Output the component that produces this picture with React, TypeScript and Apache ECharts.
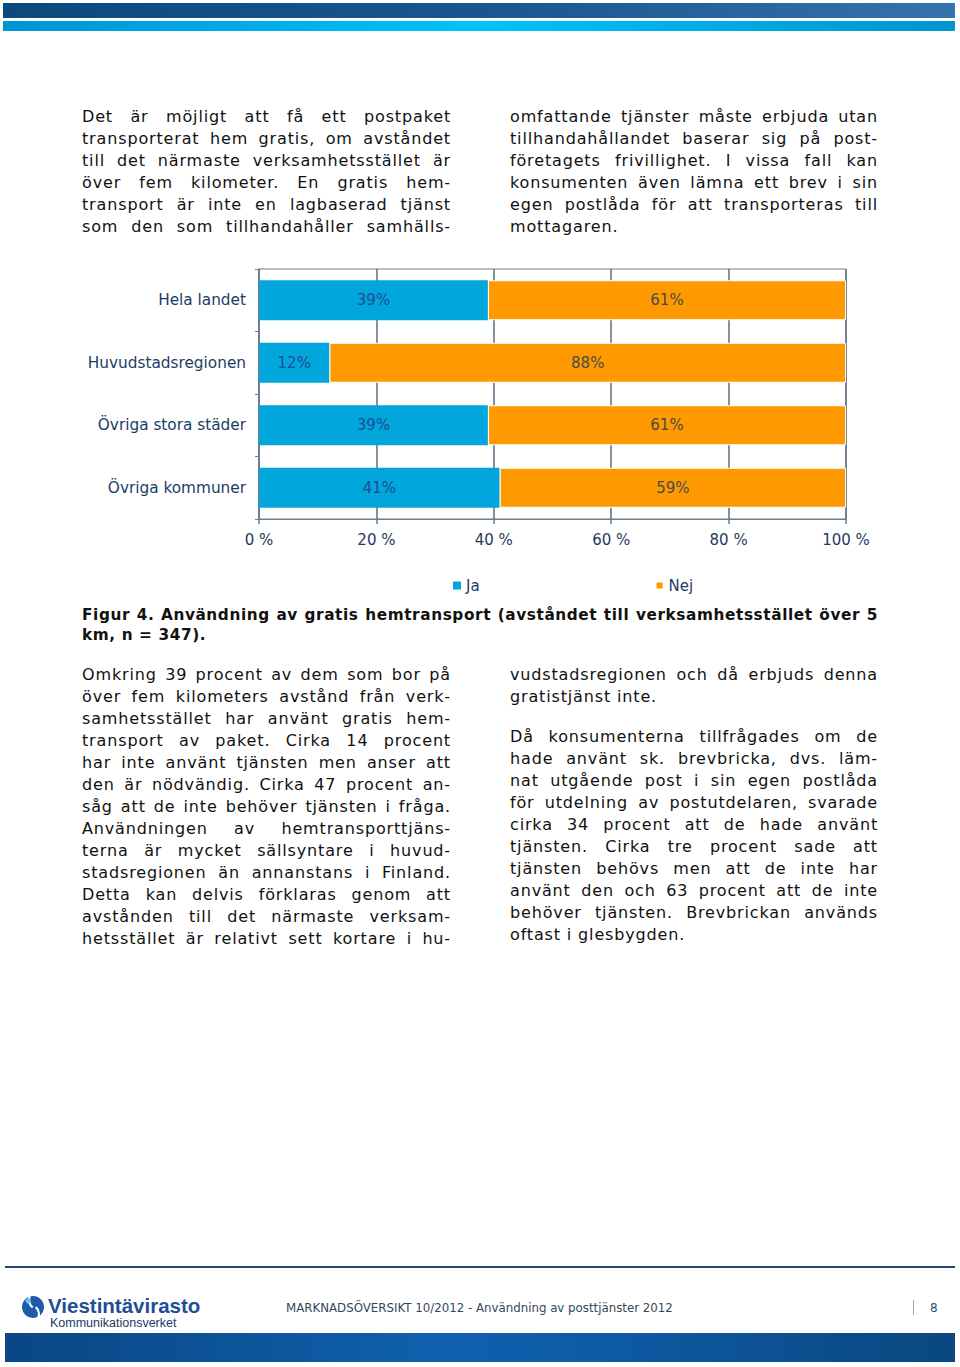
import React, { useEffect, useRef } from "react";
import * as echarts from "echarts";

const categories = ["Hela landet", "Huvudstadsregionen", "Övriga stora städer", "Övriga kommuner"];
const jaValues = [39, 12, 39, 41];
const nejValues = [61, 88, 61, 59];
const seriesNames = ["Ja", "Nej"];
const xMin = 0;
const xMax = 100;
const xStep = 20;

const topLeftLines = [
  "Det är möjligt att få ett postpaket",
  "transporterat hem gratis, om avståndet",
  "till det närmaste verksamhetsstället är",
  "över fem kilometer. En gratis hem-",
  "transport är inte en lagbaserad tjänst",
  "som den som tillhandahåller samhälls-",
];
const topRightLines = [
  "omfattande tjänster måste erbjuda utan",
  "tillhandahållandet baserar sig på post-",
  "företagets frivillighet. I vissa fall kan",
  "konsumenten även lämna ett brev i sin",
  "egen postlåda för att transporteras till",
  "mottagaren.",
];
const bottomLeftLines = [
  "Omkring 39 procent av dem som bor på",
  "över fem kilometers avstånd från verk-",
  "samhetsstället har använt gratis hem-",
  "transport av paket. Cirka 14 procent",
  "har inte använt tjänsten men anser att",
  "den är nödvändig. Cirka 47 procent an-",
  "såg att de inte behöver tjänsten i fråga.",
  "Användningen av hemtransporttjäns-",
  "terna är mycket sällsyntare i huvud-",
  "stadsregionen än annanstans i Finland.",
  "Detta kan delvis förklaras genom att",
  "avstånden till det närmaste verksam-",
  "hetsstället är relativt sett kortare i hu-",
];
const bottomRightLines1 = [
  "vudstadsregionen och då erbjuds denna",
  "gratistjänst inte.",
];
const bottomRightLines2 = [
  "Då konsumenterna tillfrågades om de",
  "hade använt sk. brevbricka, dvs. läm-",
  "nat utgående post i sin egen postlåda",
  "för utdelning av postutdelaren, svarade",
  "cirka 34 procent att de hade använt",
  "tjänsten. Cirka tre procent sade att",
  "tjänsten behövs men att de inte har",
  "använt den och 63 procent att de inte",
  "behöver tjänsten. Brevbrickan används",
  "oftast i glesbygden.",
];
const captionLines = [
  "Figur 4. Användning av gratis hemtransport (avståndet till verksamhetsstället över 5",
  "km, n = 347).",
];
const footerText = "MARKNADSÖVERSIKT 10/2012 - Användning av posttjänster 2012";
const pageNumber = "8";
const logoName = "Viestintävirasto";
const logoSub = "Kommunikationsverket";

const FONT = "'DejaVu Sans', Verdana, sans-serif";

type ColProps = {
  left: number;
  top: number;
  width: number;
  lines: string[];
  lastIsLeft?: boolean;
  lineHeight?: number;
  bold?: boolean;
  fontSize?: number;
  letterSpacing?: number;
};

function Column({ left, top, width, lines, lastIsLeft, lineHeight = 22, bold, fontSize = 16, letterSpacing = 0.85 }: ColProps) {
  return (
    <div
      style={{
        position: "absolute",
        left,
        top,
        width,
        fontFamily: FONT,
        fontSize,
        lineHeight: lineHeight + "px",
        letterSpacing,
        color: "#111",
        fontWeight: bold ? "bold" : "normal",
        zIndex: 2,
      }}
    >
      {lines.map((l, i) => {
        const isLast = i === lines.length - 1 && lastIsLeft;
        return (
          <div
            key={i}
            style={{
              height: lineHeight,
              textAlign: isLast ? "left" : "justify",
              textAlignLast: isLast ? "left" : "justify",
              overflow: "visible",
            }}
          >
            {l}
          </div>
        );
      })}
    </div>
  );
}

export default function App() {
  const ref = useRef<HTMLDivElement>(null);

  useEffect(() => {
    if (!ref.current) return;
    const chart = echarts.init(ref.current, null, { renderer: "svg" });
    const axisColor = "#6d7d8e";
    const hGrad = (stops: [number, string][]) => ({
      type: "linear",
      x: 0,
      y: 0,
      x2: 1,
      y2: 0,
      colorStops: stops.map(([o, c]) => ({ offset: o, color: c })),
    });
    chart.setOption({
      animation: false,
      textStyle: { fontFamily: FONT },
      grid: {
        left: 259,
        top: 269,
        width: 587,
        height: 250,
        show: true,
        borderColor: axisColor,
        borderWidth: 1,
        backgroundColor: "transparent",
      },
      legend: {
        data: seriesNames,
        left: 448,
        top: 573,
        itemWidth: 8,
        itemHeight: 8,
        itemGap: 175,
        icon: "rect",
        selectedMode: false,
        textStyle: { color: "#1f3a5f", fontSize: 15, fontFamily: FONT },
      },
      xAxis: {
        type: "value",
        min: xMin,
        max: xMax,
        interval: xStep,
        axisLine: { show: true, lineStyle: { color: axisColor, width: 1 } },
        axisTick: { show: true, length: 5, lineStyle: { color: axisColor, width: 1.5 } },
        splitLine: { show: true, lineStyle: { color: "#5d6d7e", width: 1.5 } },
        axisLabel: {
          formatter: (v: number) => v + " %",
          color: "#1f3a5f",
          fontSize: 15,
          margin: 13,
        },
      },
      yAxis: {
        type: "category",
        data: categories,
        inverse: true,
        axisLine: { show: true, lineStyle: { color: axisColor, width: 1.5 } },
        axisTick: { show: true, length: 4, lineStyle: { color: axisColor, width: 1 } },
        axisLabel: { color: "#1a3d66", fontSize: 15.3, margin: 13 },
      },
      series: [
        {
          name: seriesNames[0],
          type: "bar",
          stack: "total",
          barWidth: 40,
          data: jaValues,
          itemStyle: { color: "#00a6dc" },
          label: {
            show: true,
            position: "inside",
            formatter: "{c}%",
            color: "#1d4f8e",
            fontSize: 15,
            fontFamily: FONT,
          },
        },
        {
          name: seriesNames[1],
          type: "bar",
          stack: "total",
          barWidth: 40,
          data: nejValues,
          itemStyle: { color: "#ff9900", borderColor: "#ffffff", borderWidth: 1 },
          label: {
            show: true,
            position: "inside",
            formatter: "{c}%",
            color: "#4a4a4a",
            fontSize: 15,
            fontFamily: FONT,
          },
        },
      ],
      graphic: [
        {
          type: "rect",
          shape: { x: 3, y: 3, width: 952, height: 15 },
          style: { fill: hGrad([[0, "#0c487e"], [0.5, "#17578f"], [1, "#3373ae"]]) },
        },
        {
          type: "rect",
          shape: { x: 3, y: 21, width: 952, height: 10 },
          style: { fill: hGrad([[0, "#0094d4"], [0.5, "#00c4f8"], [1, "#0094d2"]]) },
        },
        {
          type: "rect",
          shape: { x: 5, y: 1266, width: 950, height: 2 },
          style: { fill: "#1c4a78" },
        },
        {
          type: "rect",
          shape: { x: 5, y: 1333, width: 950, height: 29 },
          style: { fill: hGrad([[0, "#0a4683"], [0.45, "#0f60ad"], [0.6, "#0e5ca8"], [1, "#0a477f"]]) },
        },
        {
          type: "circle",
          shape: { cx: 33, cy: 1307, r: 11 },
          style: { fill: "#1d5ba8" },
        },
        {
          type: "arc",
          shape: { cx: 38, cy: 1300, r: 9, startAngle: 2.2, endAngle: 3.6 },
          style: { stroke: "#ffffff", lineWidth: 2.2, fill: "none" },
        },
        {
          type: "arc",
          shape: { cx: 30, cy: 1314, r: 9, startAngle: 5.4, endAngle: 6.9 },
          style: { stroke: "#ffffff", lineWidth: 2.2, fill: "none" },
        },
        {
          type: "circle",
          shape: { cx: 28, cy: 1301, r: 2.5 },
          style: { fill: "#6fc3ef" },
        },
        {
          type: "text",
          x: 48,
          y: 1305,
          style: {
            text: logoName,
            fill: "#1d4f96",
            font: "bold 20.5px 'Liberation Sans', Arial, sans-serif",
            verticalAlign: "middle",
          },
        },
        {
          type: "text",
          x: 50,
          y: 1323,
          style: {
            text: logoSub,
            fill: "#1c3a66",
            font: "12.5px 'Liberation Sans', Arial, sans-serif",
            verticalAlign: "middle",
          },
        },
        {
          type: "text",
          x: 286,
          y: 1308,
          style: {
            text: footerText,
            fill: "#34475c",
            font: "11.8px 'DejaVu Sans', Verdana, sans-serif",
            verticalAlign: "middle",
          },
        },
        {
          type: "line",
          shape: { x1: 913.5, y1: 1300, x2: 913.5, y2: 1315 },
          style: { stroke: "#9aa6b2", lineWidth: 1 },
        },
        {
          type: "text",
          x: 930,
          y: 1308,
          style: {
            text: pageNumber,
            fill: "#1f4e79",
            font: "12px 'DejaVu Sans', Verdana, sans-serif",
            verticalAlign: "middle",
          },
        },
      ],
    });
    return () => chart.dispose();
  }, []);

  return (
    <div style={{ position: "absolute", left: 0, top: 0, width: 960, height: 1367, background: "#fff" }}>
      <div ref={ref} style={{ position: "absolute", left: 0, top: 0, width: 960, height: 1367 }} />
      <Column left={82} top={106} width={369} lines={topLeftLines} />
      <Column left={510} top={106} width={368} lines={topRightLines} lastIsLeft />
      <Column
        left={82}
        top={605}
        width={796}
        lines={captionLines}
        lastIsLeft
        lineHeight={20}
        bold
        fontSize={15.3}
        letterSpacing={0.6}
      />
      <Column left={82} top={664} width={369} lines={bottomLeftLines} />
      <Column left={510} top={664} width={368} lines={bottomRightLines1} lastIsLeft />
      <Column left={510} top={726} width={368} lines={bottomRightLines2} lastIsLeft />
    </div>
  );
}
